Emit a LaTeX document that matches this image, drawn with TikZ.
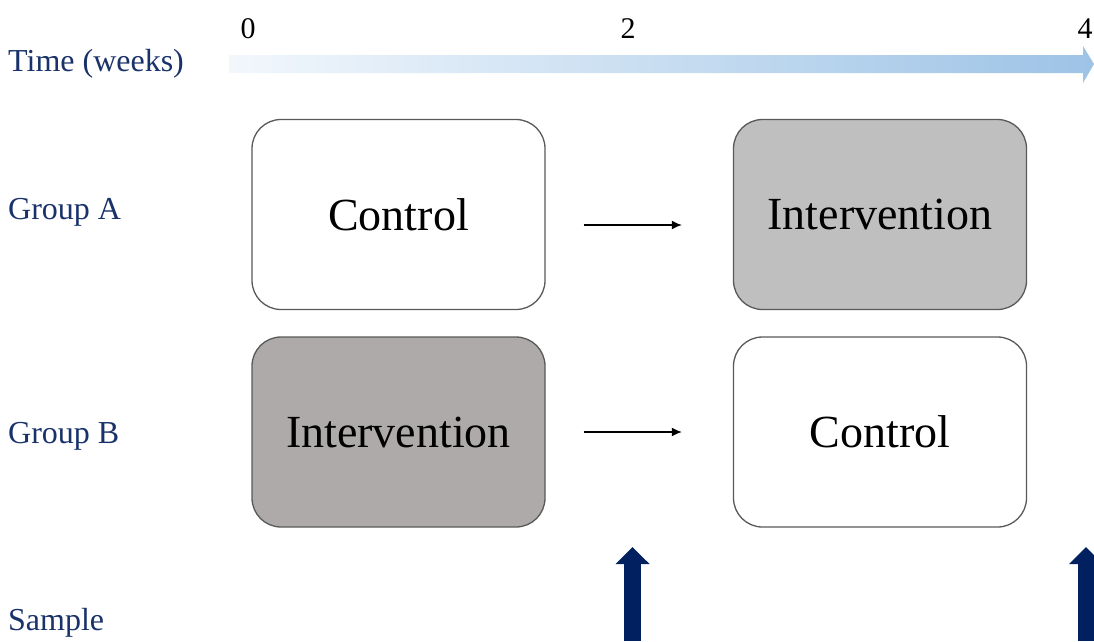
\documentclass[tikz,border=0pt]{standalone}
\usepackage{fontspec}
\setmainfont{Liberation Serif}
\usetikzlibrary{arrows.meta}
\usepackage{xcolor}
\definecolor{navy}{HTML}{1A326A}
\definecolor{samplecol}{HTML}{002060}
\definecolor{greyA}{HTML}{BFBFBF}
\definecolor{greyB}{HTML}{AEAAAA}
\definecolor{timeL}{HTML}{F2F7FC}
\definecolor{timeR}{HTML}{9DC3E6}
\newcommand{\boxfont}{\fontsize{46}{50}\selectfont}
\newcommand{\rowfont}{\fontsize{32}{36}\selectfont\color{navy}}
\newcommand{\tickfont}{\fontsize{30}{34}\selectfont}

\tikzset{
  armbox/.style={draw=black!65, line width=1.3pt, rounded corners=29pt,
    minimum width=293pt, minimum height=190pt, inner sep=0pt, font=\boxfont},
  rowlabel/.style={anchor=base west, inner sep=0pt, font=\rowfont},
  ticklabel/.style={anchor=base, inner sep=0pt, font=\tickfont},
  swap/.style={line width=1.5pt, -{Latex[length=10pt,width=9pt]}, shorten <=38pt, shorten >=51pt},
  samplearrow/.style={samplecol, line width=17pt, -{Triangle[length=17pt,width=33pt]}}
}

\begin{document}
\begin{tikzpicture}[x=1pt,y=-1pt]
        \useasboundingbox (0,0) rectangle (1094,641);

        % time axis
        \shade[left color=timeL, right color=timeR] (229,55) -- (1083,55) -- (1083,46) -- (1094,64) -- (1083,83) -- (1083,73) -- (229,73) -- cycle;
        \node[ticklabel] (t0) at (248,38) {0};
        \node[ticklabel] (t2) at (628,38) {2};
        \node[ticklabel] (t4) at (1085,38) {4};

        % row labels
        \node[rowlabel] (time) at (8,71) {Time (weeks)};
        \node[rowlabel] (grpA) at (8,219) {Group A};
        \node[rowlabel] (grpB) at (8,443) {Group B};
        \node[rowlabel] (sample) at (8,630) {Sample};

        % periods
        \node[armbox, fill=white] (a1) at (398.5,214.5) {Control};
        \node[armbox, fill=greyA] (a2) at (880,214.5) {Intervention};
        \node[armbox, fill=greyB] (b1) at (398.5,432) {Intervention};
        \node[armbox, fill=white] (b2) at (880,432) {Control};

        \draw[swap] ([yshift=-10.5pt]a1.east) -- ([yshift=-10.5pt]a2.west);
        \draw[swap] (b1.east) -- (b2.west);

        % sampling points
        \coordinate (s2) at (632.5,641);
        \coordinate (s2top) at (632.5,547);
        \coordinate (s4) at (1086,641);
        \coordinate (s4top) at (1086,547);
        \draw[samplearrow] (s2) -- (s2top);
        \draw[samplearrow] (s4) -- (s4top);
    \end{tikzpicture}
\end{document}
